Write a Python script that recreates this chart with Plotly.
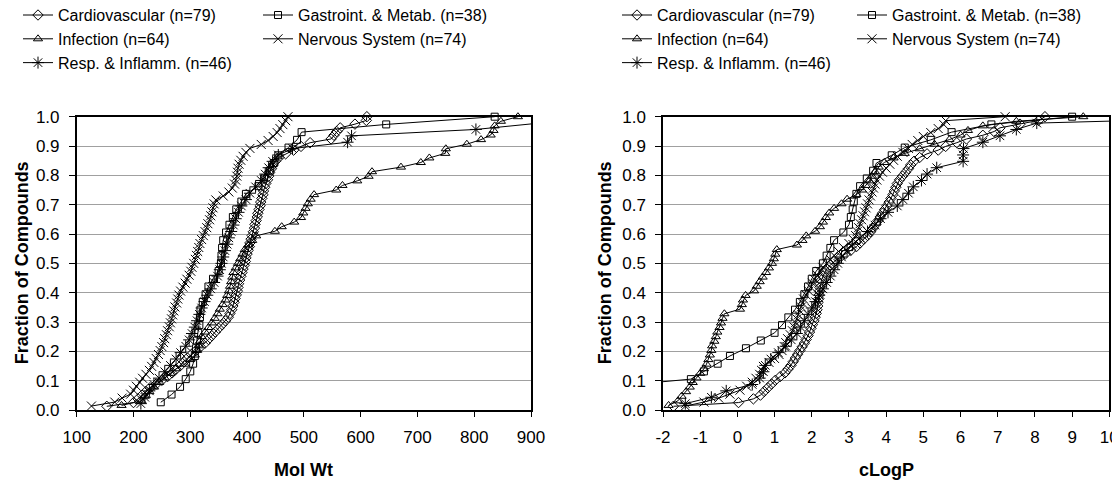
import pandas as pd
import plotly.express as px
import plotly.graph_objects as go
from plotly.subplots import make_subplots

# ---------------- data ----------------
categories = ["Cardiovascular (n=79)", "Gastroint. & Metab. (n=38)", "Infection (n=64)",
              "Nervous System (n=74)", "Resp. & Inflamm. (n=46)"]

# Molecular weight of each compound per therapeutic area
mw_cardio = [153, 200, 208, 215, 222, 229, 240, 250, 260, 268,
             275, 283, 289, 295, 302, 310, 318, 326, 332, 338,
             344, 350, 356, 362, 367, 370, 373, 375, 377, 379,
             381, 383, 384, 385, 387, 389, 391, 393, 395, 397,
             398, 400, 402, 404, 405, 407, 409, 411, 413, 414,
             416, 418, 419, 421, 423, 424, 426, 428, 429,
             431, 433, 436, 438, 440, 443, 446, 450, 456, 468,
             482, 495, 511, 548, 553, 558, 564, 590, 610, 611]
mw_gastro = [248, 267, 282, 292, 300, 305, 308, 310, 312, 314, 316, 317, 318, 322, 327,
             332, 340, 350, 354, 355, 356, 358, 363, 369, 375, 381, 390, 398, 420, 430,
             440, 447, 455, 473, 488, 496, 645, 836]
mw_infect = [179, 214, 220, 228, 236, 245, 255, 265, 275, 290,
             300, 308, 312, 315, 317, 320, 326, 332, 338, 343,
             348, 352, 357, 362, 365, 368, 370, 372, 374, 376,
             380, 384, 388, 392, 396, 402, 409, 416, 449, 461,
             483, 495, 499, 503, 507, 512, 518, 557, 568, 594,
             614, 620, 671, 706, 721, 749, 750, 787, 812, 829,
             834, 836, 847, 877]
mw_nerv = [126, 167, 180, 195, 200, 205, 211, 216, 222, 228,
           232, 236, 240, 244, 247, 250, 253, 255, 258, 260,
           263, 265, 267, 269, 271, 273, 276, 278, 280, 283,
           287, 291, 294, 298, 301, 303, 306, 309, 311, 313,
           315, 317, 320, 323, 326, 329, 331, 334, 336, 338,
           340, 342, 345, 358, 368, 374, 378, 380, 382, 383,
           384, 386, 389, 393, 398, 405, 425, 437, 446, 453,
           458, 463, 468, 472]
mw_resp = [213, 220, 228, 236, 245, 255, 265, 275, 283, 292,
           298, 303, 308, 312, 316, 320, 325, 330, 336, 342,
           348, 352, 355, 358, 361, 365, 368, 372, 376, 380,
           385, 390, 398, 405, 415, 425, 432, 438, 445, 455,
           480, 577, 584, 803, 915, 1100]

# cLogP of each compound per therapeutic area
lp_cardio = [-1.72, 0.03, 0.43, 0.62, 0.72, 0.82, 0.92, 1.02, 1.15, 1.28,
             1.36, 1.44, 1.5, 1.56, 1.62, 1.68, 1.74, 1.8, 1.85, 1.9,
             1.94, 1.98, 2.02, 2.06, 2.09, 2.12, 2.14, 2.16, 2.17, 2.19,
             2.2, 2.21, 2.22, 2.23, 2.26, 2.3, 2.35, 2.4, 2.5, 2.6,
             2.75, 2.9, 3.05, 3.2, 3.3, 3.4, 3.5, 3.58, 3.65, 3.72,
             3.78, 3.84, 3.9, 3.96, 4.02, 4.08, 4.13, 4.18, 4.22, 4.26,
             4.3, 4.36, 4.44, 4.52, 4.6, 4.66, 4.75, 4.9, 5.1, 5.4,
             5.6, 5.9, 6.16, 6.6, 6.9, 7.06, 7.6, 8.1, 8.27]
lp_gastro = [-5.0, -4.5, -3.5, -1.25, -0.9, -0.53, -0.2, 0.23, 0.63, 1.0,
             1.2, 1.37, 1.55, 1.68, 1.8, 1.9, 2.0, 2.12, 2.3, 2.4,
             2.5, 2.6, 2.85, 3.0, 3.05, 3.1, 3.13, 3.2, 3.3, 3.48,
             3.65, 3.74, 4.15, 4.5, 5.2, 5.76, 6.83, 9.0]
lp_infect = [-1.85, -1.6, -1.5, -1.38, -1.28, -1.2, -1.1, -1.0, -0.9, -0.83,
             -0.78, -0.74, -0.7, -0.68, -0.62, -0.58, -0.54, -0.48, -0.44, -0.4,
             -0.35, 0.07, 0.12, 0.15, 0.22, 0.45, 0.52, 0.6, 0.68, 0.77,
             0.85, 0.93, 0.98, 1.02, 1.06, 1.6, 1.75, 1.85, 2.09, 2.22,
             2.3, 2.38, 2.47, 2.6, 2.8, 2.95, 3.2, 3.35, 3.45, 3.55,
             3.62, 3.7, 3.8, 3.95, 4.2, 4.5, 4.9, 5.3, 5.7, 6.0,
             6.2, 6.6, 7.5, 9.3]
lp_nerv = [-1.4, -0.9, -0.5, -0.2, 0.07, 0.25, 0.4, 0.5, 0.6, 0.65,
           0.7, 0.85, 1.0, 1.12, 1.2, 1.26, 1.3, 1.35, 1.42, 1.48,
           1.52, 1.56, 1.6, 1.64, 1.68, 1.72, 1.75, 1.78, 1.85, 1.92,
           1.97, 2.02, 2.07, 2.15, 2.22, 2.3, 2.4, 2.5, 2.6, 2.72,
           2.85, 3.0, 3.12, 3.18, 3.22, 3.26, 3.3, 3.34, 3.38, 3.42,
           3.46, 3.5, 3.54, 3.58, 3.62, 3.66, 3.7, 3.75, 3.82, 3.9,
           4.0, 4.1, 4.2, 4.3, 4.45, 4.6, 4.7, 4.85, 5.0, 5.2,
           5.4, 5.55, 5.6, 7.2]
lp_resp = [-1.4, -0.7, -0.3, 0.4, 0.6, 0.7, 0.75, 0.9, 1.1, 1.3,
           1.45, 1.6, 1.7, 1.8, 1.9, 2.0, 2.1, 2.2, 2.3, 2.4,
           2.5, 2.6, 2.7, 2.8, 2.95, 3.1, 3.3, 3.5, 3.7, 3.85,
           4.05, 4.3, 4.45, 4.6, 4.73, 4.95, 5.1, 5.36, 6.07, 6.07,
           6.08, 6.6, 7.06, 7.5, 8.05, 14.5]

mw_values = [mw_cardio, mw_gastro, mw_infect, mw_nerv, mw_resp]
lp_values = [lp_cardio, lp_gastro, lp_infect, lp_nerv, lp_resp]

y_ticks = [0.0, 0.1, 0.2, 0.3, 0.4, 0.5, 0.6, 0.7, 0.8, 0.9, 1.0]
mw_ticks = [100, 200, 300, 400, 500, 600, 700, 800, 900]
lp_ticks = [-2, -1, 0, 1, 2, 3, 4, 5, 6, 7, 8, 9, 10]
lp_tick_labels = ["-2", "-1", "0", "1", "2", "3", "4", "5", "6", "7", "8", "9", "10"]

# ---------------- styling ----------------
symbols = ["diamond-open", "square-open", "triangle-up-open", "x-thin-open", "asterisk-open"]
sizes = [8, 7, 8, 9, 10]
FONT = "Liberation Sans, Arial, sans-serif"
W, H = 1120, 480
OFF = 8  # page body margin: the figure starts 8px in from the page corner


def ecdf_traces(values):
    rows = [(v, cat) for cat, vals in zip(categories, values) for v in vals]
    df = pd.DataFrame(rows, columns=["value", "area"])
    f = px.ecdf(df, x="value", color="area", markers=True,
                category_orders={"area": categories})
    return list(f.data)


fig = make_subplots(rows=1, cols=2)

# legends: two columns per panel -> separate legends
legend_of = {0: 0, 2: 0, 4: 0, 1: 1, 3: 1}
for col, values in [(1, mw_values), (2, lp_values)]:
    traces = ecdf_traces(values)
    for i, tr in enumerate(traces):
        lg_idx = (col - 1) * 2 + legend_of[i]
        tr.update(
            line=dict(color="black", width=1, shape="linear"),
            marker=dict(symbol=symbols[i], size=sizes[i], color="black",
                        line=dict(color="black", width=1)),
            mode="lines+markers",
            cliponaxis=False,
            showlegend=True,
            legend="legend" if lg_idx == 0 else f"legend{lg_idx + 1}",
            xaxis=None, yaxis=None,
        )
        fig.add_trace(tr, row=1, col=col)


def px2x(p):
    return (p - OFF) / W


def px2y(p):
    return 1 - (p - OFF) / H


x1 = [76.7, 531.0]
x2 = [663.0, 1109.3]
ytop, ybot = 116.7, 410.0

axis_common = dict(showline=True, linecolor="black", linewidth=1.5, mirror=True,
                   ticks="outside", tickcolor="black", tickwidth=1,
                   tickfont=dict(family=FONT, size=17, color="black"),
                   automargin=False, zeroline=False)

fig.update_xaxes(**axis_common)
fig.update_yaxes(**axis_common)

fig.update_layout(
    xaxis=dict(domain=[px2x(x1[0]), px2x(x1[1])], range=[100, 900], tickvals=mw_ticks,
               showgrid=False, ticklen=5, ticklabelstandoff=6),
    xaxis2=dict(domain=[px2x(x2[0]), px2x(x2[1])], range=[-2, 10], tickvals=lp_ticks,
                ticktext=lp_tick_labels, showgrid=False, ticklen=5, ticklabelstandoff=6),
    yaxis=dict(domain=[px2y(ybot), px2y(ytop)], range=[0, 1], tickvals=y_ticks,
               tickformat=".1f", showgrid=True, gridcolor="#a0a0a0", gridwidth=1,
               ticklen=6, ticklabelstandoff=6),
    yaxis2=dict(domain=[px2y(ybot), px2y(ytop)], range=[0, 1], tickvals=y_ticks,
                tickformat=".1f", showgrid=True, gridcolor="#a0a0a0", gridwidth=1,
                ticklen=6, ticklabelstandoff=6),
)

leg_common = dict(orientation="v", yanchor="top", xanchor="left", y=1.0206,
                  bgcolor="rgba(0,0,0,0)", borderwidth=0, tracegroupgap=0,
                  font=dict(family=FONT, size=16, color="black"))
fig.update_layout(
    legend=dict(x=px2x(18), **leg_common),
    legend2=dict(x=px2x(258), **leg_common),
    legend3=dict(x=px2x(617), **leg_common),
    legend4=dict(x=px2x(852), **leg_common),
)

title_font = dict(family=FONT, size=18, color="black")
annotations = [
    dict(text="<b>Mol Wt</b>", x=px2x((x1[0] + x1[1]) / 2), y=px2y(470)),
    dict(text="<b>cLogP</b>", x=px2x((x2[0] + x2[1]) / 2), y=px2y(470)),
    dict(text="<b>Fraction of Compounds</b>", x=px2x(22), y=px2y((ytop + ybot) / 2), textangle=-90),
    dict(text="<b>Fraction of Compounds</b>", x=px2x(605), y=px2y((ytop + ybot) / 2), textangle=-90),
]
for a in annotations:
    fig.add_annotation(xref="paper", yref="paper", xanchor="center", yanchor="middle",
                       showarrow=False, font=title_font, **a)

fig.update_layout(width=W, height=H, margin=dict(l=0, r=0, t=0, b=0, autoexpand=False),
                  paper_bgcolor="white", plot_bgcolor="white",
                  font=dict(family=FONT, color="black"), hovermode=False)

fig.write_html("out.html")
